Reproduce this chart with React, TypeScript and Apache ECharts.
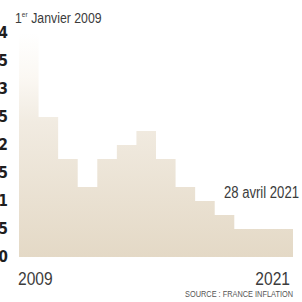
import React, { useEffect, useRef } from "react";
import * as echarts from "echarts";

// Taux successifs (étapes de largeur égale, la dernière plus longue)
const rates = [4, 2.5, 1.75, 1.25, 1.75, 2, 2.25, 1.75, 1.25, 1, 0.75, 0.5];
const stepWidths = [1, 1, 1, 1, 1, 1, 1, 1, 1, 1, 1, 3];
const yTicks = [0, 0.5, 1, 1.5, 2, 2.5, 3, 3.5, 4];
const startLabel = "Janvier 2009";
const endLabel = "28 avril 2021";
const xStartLabel = "2009";
const xEndLabel = "2021";
const sourceLabel = "SOURCE : FRANCE INFLATION";

const FONT = "'Liberation Sans', Arial, sans-serif";
const AXIS_FONT = "'DejaVu Sans Condensed', 'Liberation Sans', sans-serif";
const NARROW = 0.82;

export default function App() {
  const ref = useRef<HTMLDivElement>(null);
  useEffect(() => {
    if (!ref.current) return;
    const chart = echarts.init(ref.current, undefined, { renderer: "svg" });
    const pts: [number, number][] = [];
    let cum = 0;
    rates.forEach((r, i) => {
      pts.push([cum, r]);
      cum += stepWidths[i];
    });
    pts.push([cum, rates[rates.length - 1]]);

    const txt = (
      text: string,
      x: number,
      y: number,
      size: number,
      align: string,
      fill = "#3c3c3c"
    ) => ({
      type: "text",
      x,
      y,
      scaleX: NARROW,
      style: {
        text,
        fontFamily: FONT,
        fontSize: size,
        fill,
        textAlign: align,
        textVerticalAlign: "middle",
      },
    });

    chart.setOption({
      animation: false,
      backgroundColor: "#ffffff",
      grid: { left: 19, right: 9, top: 33, bottom: 45, outerBoundsMode: "none" },
      xAxis: {
        type: "value",
        min: 0,
        max: cum,
        show: false,
      },
      yAxis: {
        type: "value",
        min: yTicks[0],
        max: yTicks[yTicks.length - 1],
        interval: 0.5,
        axisLine: { show: false },
        axisTick: { show: false },
        splitLine: { show: false },
        axisLabel: {
          margin: 11,
          fontFamily: AXIS_FONT,
          fontWeight: "bold",
          fontSize: 15,
          color: "#1e1e1e",
          formatter: (v: number) => String(v).replace(".", ","),
        },
      },
      series: [
        {
          type: "line",
          step: "end",
          data: pts,
          symbol: "none",
          lineStyle: { width: 0, opacity: 0 },
          areaStyle: {
            opacity: 1,
            color: {
              type: "linear",
              x: 0,
              y: 0,
              x2: 0,
              y2: 1,
              colorStops: [
                { offset: 0, color: "#ffffff" },
                { offset: 0.2, color: "#fbf8f3" },
                { offset: 0.4, color: "#f1ebe1" },
                { offset: 1, color: "#e4d9c6" },
              ],
            },
          },
        },
      ],
      graphic: [
        {
          type: "text",
          x: 15,
          y: 18,
          scaleX: NARROW,
          style: {
            text: "{n|1}{s|er} {n|" + startLabel + "}",
            textVerticalAlign: "middle",
            rich: {
              n: { fontFamily: FONT, fontSize: 15, fill: "#3c3c3c", verticalAlign: "bottom" },
              s: { fontFamily: FONT, fontSize: 8, fill: "#3c3c3c", verticalAlign: "top", padding: [0, 1, 0, 0] },
            },
          },
        },
        txt(endLabel, 299, 193, 16, "right"),
        txt(xStartLabel, 18, 278, 19, "left"),
        txt(xEndLabel, 290, 278, 19, "right"),
        txt(sourceLabel, 293, 294, 9, "right", "#555555"),
      ],
    });
    return () => chart.dispose();
  }, []);
  return (
    <div
      ref={ref}
      style={{ position: "absolute", left: 0, top: 0, width: 302, height: 302 }}
    />
  );
}
